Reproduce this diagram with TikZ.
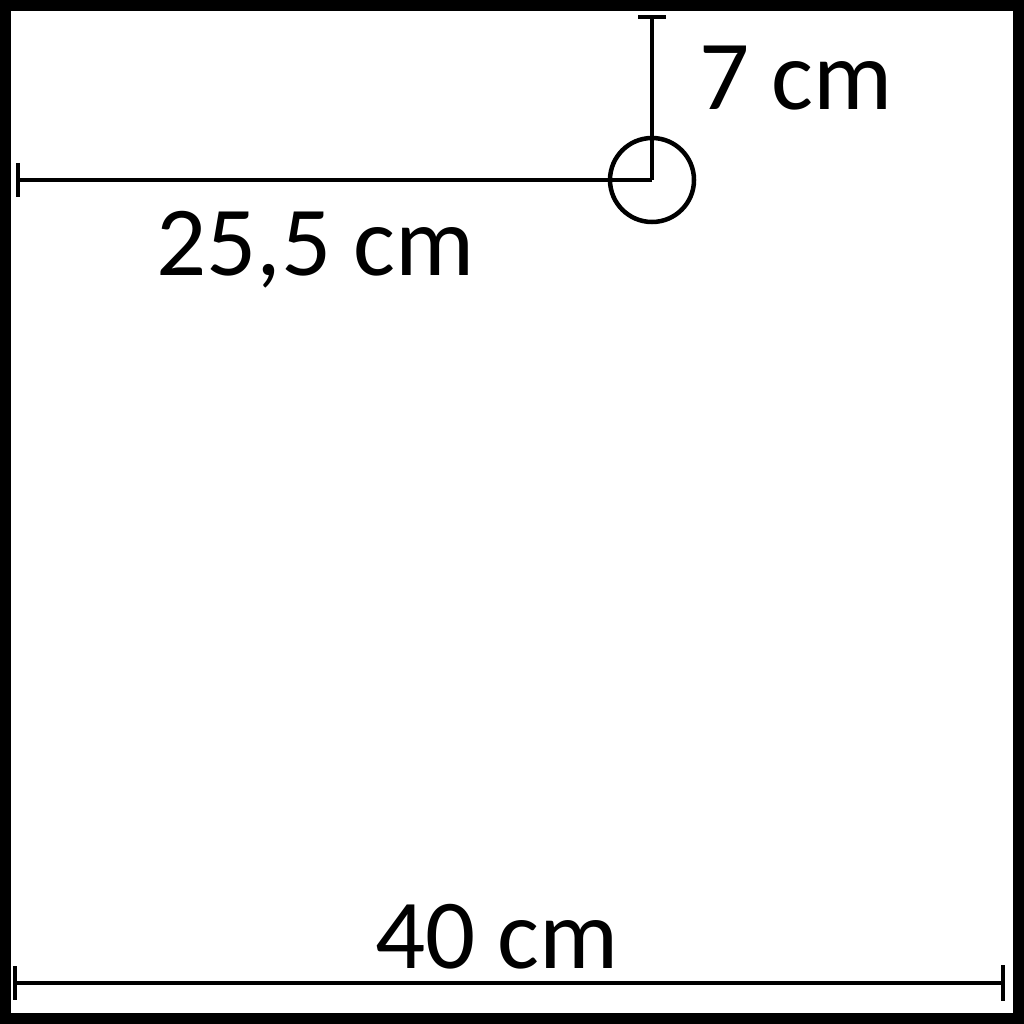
\documentclass[tikz,border=0pt]{standalone}
\usepackage{fontspec}
\setmainfont{Carlito}
\begin{document}
\begin{tikzpicture}[x=1pt,y=-1pt,
  dim/.style={line width=4.5pt},
  tick/.style={line width=4.5pt},
  lbl/.style={inner sep=0pt,anchor=base west,font=\fontsize{99}{102}\selectfont}]
\useasboundingbox (0,0) rectangle (1024,1024);
\draw[line width=11pt] (5.5,5.5) rectangle (1018.5,1018.5);
% centre of circle
\coordinate (c) at (652,180);
\node[draw,circle,line width=4.5pt,minimum size=84pt,inner sep=0pt] (circ) at (c) {};
% 25,5 cm dimension
\coordinate (l1) at (18,180);
\coordinate (l1a) at (18,163);
\coordinate (l1b) at (18,197);
\draw[dim] (l1) -- (c);
\draw[tick] (l1a) -- (l1b);
% 7 cm dimension
\coordinate (t1) at (652,17);
\coordinate (t1a) at (638,17);
\coordinate (t1b) at (666,17);
\draw[dim] (c) -- (t1);
\draw[tick] (t1a) -- (t1b);
% 40 cm dimension
\coordinate (b1) at (15,983);
\coordinate (b2) at (1003,983);
\coordinate (b1a) at (15,966);
\coordinate (b1b) at (15,1000);
\coordinate (b2a) at (1003,965);
\coordinate (b2b) at (1003,1001);
\draw[dim] (b1) -- (b2);
\draw[tick] (b1a) -- (b1b);
\draw[tick] (b2a) -- (b2b);
% labels
\node[lbl] (t7) at (699,110) {7 cm};
\node[lbl] (t25) at (156,275) {25,5 cm};
\node[lbl] (t40) at (375,968) {40 cm};
\end{tikzpicture}
\end{document}
